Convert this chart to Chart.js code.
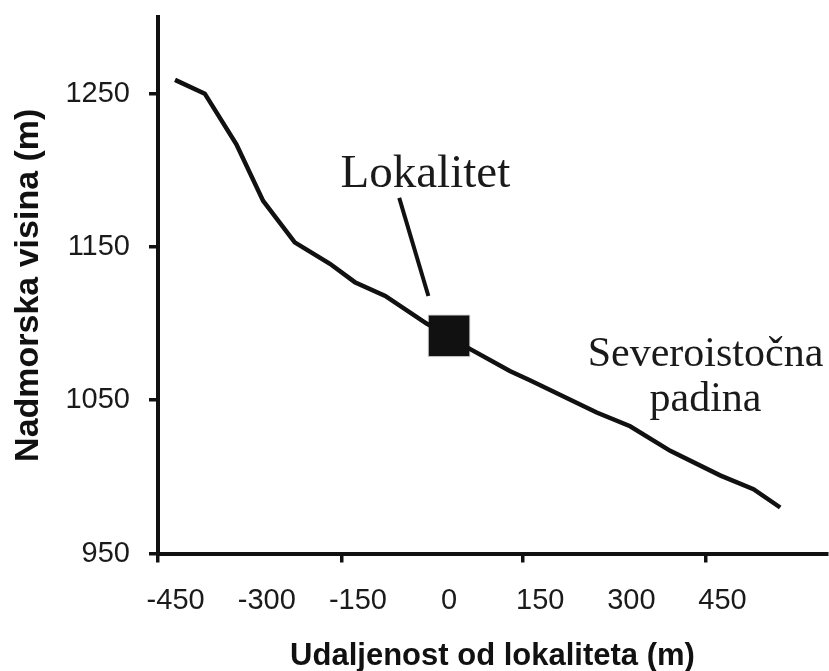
<!DOCTYPE html>
<html>
<head>
<meta charset="utf-8">
<script src="https://cdn.jsdelivr.net/npm/chart.js@4.4.1/dist/chart.umd.min.js"></script>
<style>body{margin:0;background:#fff}</style>
</head>
<body>
<canvas id="myChart" width="829" height="671"></canvas>
<script>
// profil padine: udaljenost od lokaliteta (m) i nadmorska visina (m)
var distance = [-451, -402, -350, -306, -254, -196, -155, -105, -37, 0, 32, 100, 133, 243, 298, 364, 446, 501, 545];
var elevation = [1259, 1250, 1217, 1180, 1153, 1139, 1127, 1118, 1100, 1092, 1084, 1069, 1063, 1042, 1033, 1017, 1001, 992, 980];
var site = [{x: 0, y: 1092}];
var pointer = [{x: -82, y: 1182}, {x: -34, y: 1118}];
var xLabels = [-450, -300, -150, 0, 150, 300, 450];
var xTickMarks = [-479, -177, 122, 423];
var yTicks = [950, 1050, 1150, 1250];
var notes = [
  {text: 'Lokalitet', x: -39, y: 1189},
  {text: 'Severoistočna', x: 422, y: 1072},
  {text: 'padina', x: 422, y: 1043}
];

var X_MIN = -479, X_MAX = 622;
var INK = '#111';
var sans = '"Liberation Sans", Arial, sans-serif';

function noPad(axis) {
  axis.paddingTop = 0;
  axis.paddingBottom = 0;
  axis.paddingLeft = 0;
  axis.paddingRight = 0;
}

var notesPlugin = {
  id: 'notes',
  afterDatasetsDraw: function(chart) {
    var ctx = chart.ctx, xs = chart.scales.x, ys = chart.scales.y;
    ctx.save();
    ctx.fillStyle = '#1a1a1a';
    ctx.textAlign = 'center';
    ctx.textBaseline = 'alphabetic';
    notes.forEach(function(n, i) {
      ctx.font = (i == 0 ? 47 : 42) + 'px "Liberation Serif", "Times New Roman", serif';
      ctx.fillText(n.text, xs.getPixelForValue(n.x), ys.getPixelForValue(n.y));
    });
    ctx.restore();
  }
};

var ctx = document.getElementById('myChart').getContext('2d');
var myChart = new Chart(ctx, {
  type: 'line',
  data: {
    datasets: [{
      data: distance.map(function(d, i) { return {x: d, y: elevation[i]}; }),
      borderColor: INK,
      borderWidth: 4.5,
      pointRadius: 0,
      tension: 0
    }, {
      data: pointer,
      borderColor: INK,
      borderWidth: 4,
      pointRadius: 0
    }, {
      data: site,
      showLine: false,
      pointStyle: 'rect',
      pointRadius: 29.5,
      backgroundColor: INK,
      borderColor: '#ddd',
      borderWidth: 1
    }]
  },
  options: {
    responsive: false,
    animation: false,
    layout: {autoPadding: false, padding: {top: 17, right: 2, left: 0, bottom: 0}},
    plugins: {legend: {display: false}, tooltip: {enabled: false}},
    scales: {
      x: {
        type: 'linear',
        position: 'bottom',
        weight: 0,
        min: X_MIN,
        max: X_MAX,
        afterBuildTicks: function(axis) {
          axis.ticks = xTickMarks.map(function(v) { return {value: v}; });
        },
        afterFit: function(axis) { axis.height = 9; noPad(axis); },
        ticks: {display: false},
        grid: {drawOnChartArea: false, tickLength: 9, color: INK, lineWidth: 3.5},
        border: {color: INK, width: 4}
      },
      xl: {
        type: 'linear',
        position: 'bottom',
        weight: 1,
        min: X_MIN,
        max: X_MAX,
        afterBuildTicks: function(axis) {
          axis.ticks = xLabels.map(function(v) { return {value: v}; });
        },
        afterFit: function(axis) { axis.height = 108.5; noPad(axis); },
        grid: {display: false},
        border: {display: false},
        ticks: {color: '#1a1a1a', padding: 13, maxRotation: 0, autoSkip: false,
          font: {family: sans, size: 29},
          callback: function(v) { return String(v); }},
        title: {display: true, text: 'Udaljenost od lokaliteta (m)', color: INK,
          font: {family: sans, size: 31, weight: 'bold'}, padding: {top: 0, bottom: -4}}
      },
      y: {
        type: 'linear',
        min: 950,
        max: 1300,
        afterBuildTicks: function(axis) {
          axis.ticks = yTicks.map(function(v) { return {value: v}; });
        },
        afterFit: function(axis) { axis.width = 158; noPad(axis); },
        grid: {drawOnChartArea: false, tickLength: 9, color: INK, lineWidth: 3.5},
        border: {color: INK, width: 4},
        ticks: {color: '#1a1a1a', padding: 19, font: {family: sans, size: 29},
          callback: function(v) { return String(v); }},
        title: {display: true, text: 'Nadmorska visina (m)', color: INK,
          font: {family: sans, size: 34, weight: 'bold'}, padding: {top: 8, bottom: 0}}
      }
    }
  },
  plugins: [notesPlugin]
});
</script>
</body>
</html>
